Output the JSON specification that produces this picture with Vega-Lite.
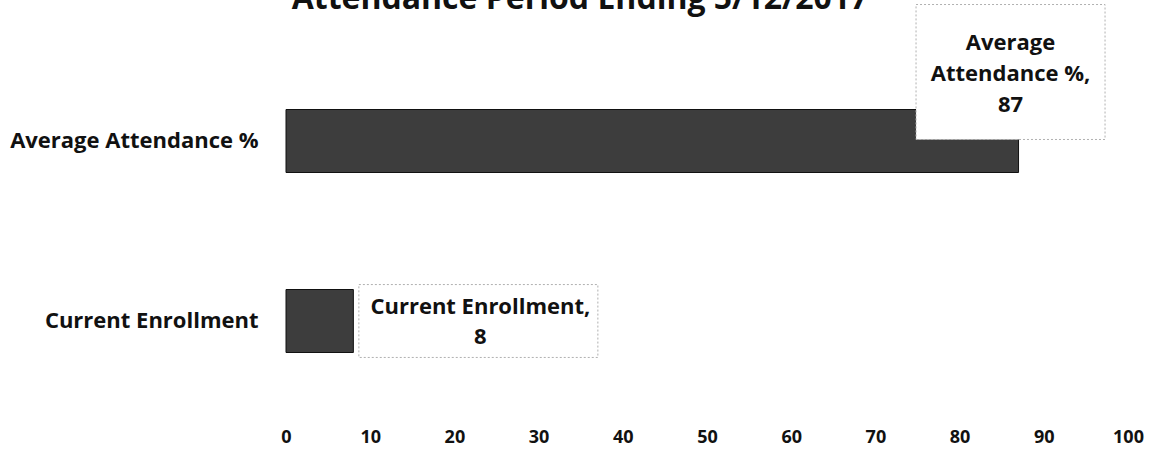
{
  "$schema": "https://vega.github.io/schema/vega-lite/v6.json",
  "width": 842,
  "height": 360,
  "autosize": {"type": "none"},
  "padding": {"left": 286, "top": 51, "right": 22, "bottom": 42},
  "background": "white",
  "title": {
    "text": "Attendance Period Ending 5/12/2017",
    "anchor": "middle",
    "frame": "group",
    "dx": -127,
    "dy": 38,
    "font": "Open Sans",
    "fontSize": 32,
    "fontWeight": "bold",
    "color": "#111111",
    "baseline": "alphabetic",
    "offset": 0
  },
  "data": {
    "values": [
      {"category": "Average Attendance %", "value": 87, "label": "Average\nAttendance %,\n87"},
      {"category": "Current Enrollment", "value": 8, "label": "Current Enrollment,\n8"}
    ]
  },
  "encoding": {
    "y": {
      "field": "category",
      "type": "nominal",
      "sort": ["Average Attendance %", "Current Enrollment"],
      "scale": {"paddingInner": 0.65, "paddingOuter": 0.325},
      "axis": {
        "title": null,
        "domain": false,
        "ticks": false,
        "labelPadding": 28,
        "labelFont": "Open Sans",
        "labelFontSize": 22,
        "labelFontWeight": "bold",
        "labelColor": "#111111",
        "labelLimit": 400
      }
    },
    "x": {
      "field": "value",
      "type": "quantitative",
      "scale": {"domain": [0, 100]},
      "axis": {
        "title": null,
        "domain": false,
        "ticks": false,
        "grid": false,
        "labelFlush": false,
        "values": [0, 10, 20, 30, 40, 50, 60, 70, 80, 90, 100],
        "labelPadding": 17,
        "labelFont": "Open Sans",
        "labelFontSize": 18,
        "labelFontWeight": "bold",
        "labelColor": "#111111"
      }
    }
  },
  "layer": [
    {
      "mark": {"type": "bar", "color": "#3d3d3d", "stroke": "#111111", "strokeWidth": 1}
    },
    {
      "transform": [{"filter": "datum.category == 'Average Attendance %'"}],
      "mark": {
        "type": "point",
        "shape": "M -1 -0.714 L 1 -0.714 L 1 0.714 L -1 0.714 Z",
        "size": 35721,
        "filled": true,
        "fill": "white",
        "fillOpacity": 1,
        "opacity": 1,
        "stroke": "#b0b0b0",
        "strokeWidth": 1,
        "strokeDash": [2, 2],
        "xOffset": -8,
        "yOffset": -69
      }
    },
    {
      "transform": [{"filter": "datum.category == 'Current Enrollment'"}],
      "mark": {
        "type": "point",
        "shape": "M -1 -0.305 L 1 -0.305 L 1 0.305 L -1 0.305 Z",
        "size": 57121,
        "filled": true,
        "fill": "white",
        "fillOpacity": 1,
        "opacity": 1,
        "stroke": "#b0b0b0",
        "strokeWidth": 1,
        "strokeDash": [2, 2],
        "xOffset": 125,
        "yOffset": 0
      }
    },
    {
      "transform": [{"filter": "datum.category == 'Average Attendance %'"}],
      "mark": {
        "type": "text",
        "align": "center",
        "baseline": "middle",
        "dx": -8,
        "dy": -98,
        "font": "Open Sans",
        "fontSize": 22,
        "fontWeight": "bold",
        "color": "#111111",
        "lineBreak": "\n",
        "lineHeight": 31
      },
      "encoding": {"text": {"field": "label"}}
    },
    {
      "transform": [{"filter": "datum.category == 'Current Enrollment'"}],
      "mark": {
        "type": "text",
        "align": "center",
        "baseline": "middle",
        "dx": 127,
        "dy": -14,
        "font": "Open Sans",
        "fontSize": 22,
        "fontWeight": "bold",
        "color": "#111111",
        "lineBreak": "\n",
        "lineHeight": 30
      },
      "encoding": {"text": {"field": "label"}}
    }
  ],
  "config": {"view": {"stroke": null}}
}
